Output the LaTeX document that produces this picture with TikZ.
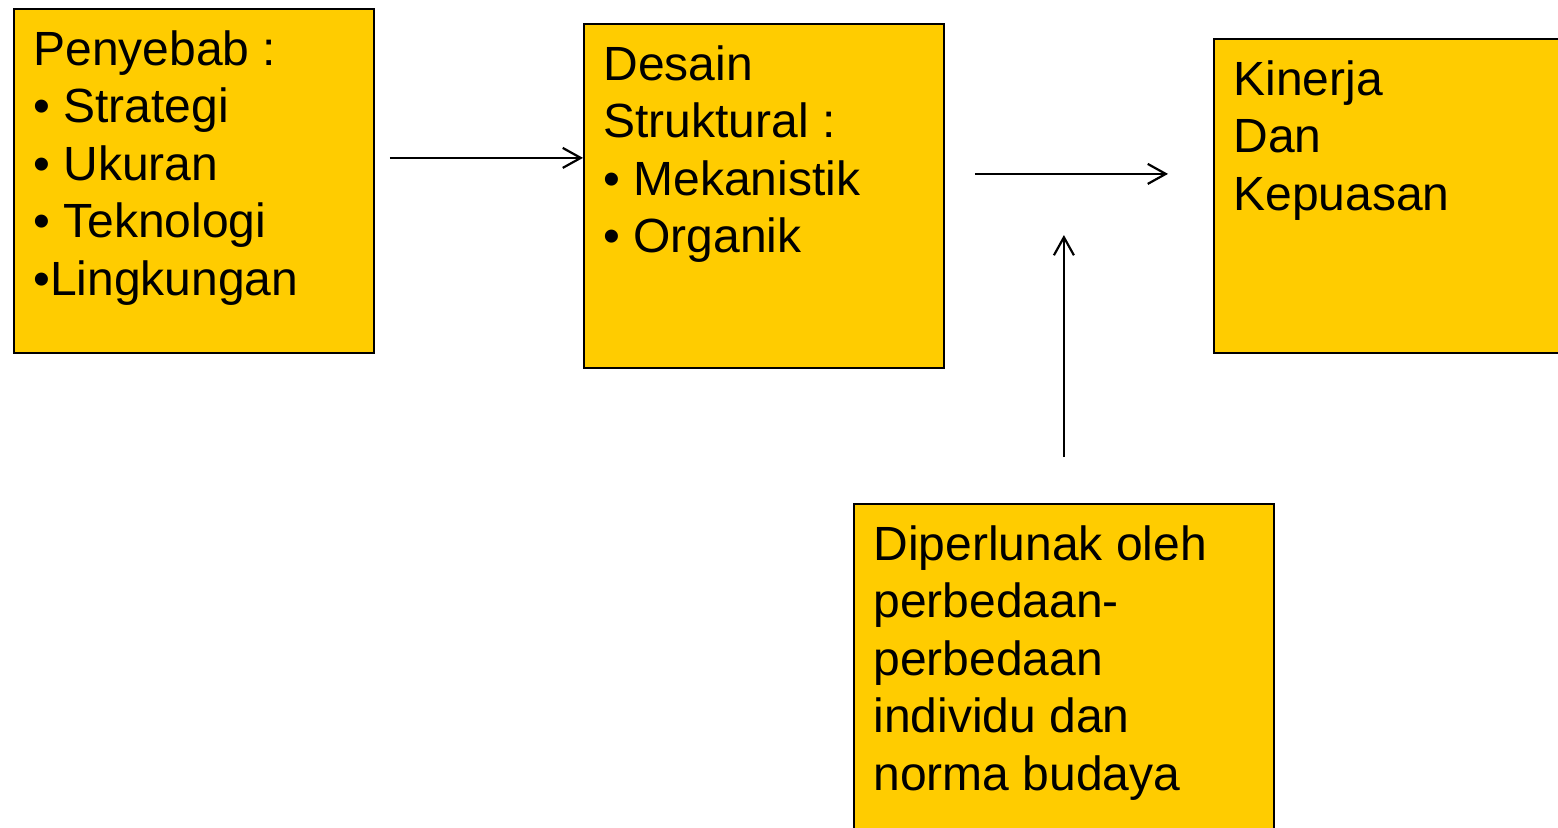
\documentclass[tikz,border=0pt]{standalone}
\usepackage{fontspec}
\setmainfont{Liberation Sans}
\usetikzlibrary{arrows.meta}
\definecolor{boxyellow}{HTML}{FFCC00}

\begin{document}
\begin{tikzpicture}[x=0.5pt, y=-0.5pt,
  box/.style={draw=black, line width=0.9pt, fill=boxyellow, inner sep=0pt, anchor=north west},
  txt/.style={anchor=north west, inner sep=0pt, align=left, font=\fontsize{24}{28.75}\selectfont},
  arr/.style={line width=1.1pt, -{Straight Barb[length=9pt, width=10pt]}}]
  \useasboundingbox (0,0) rectangle (1558,827);
  \clip (0,0) rectangle (1558,827);
  \node[box, minimum width=180pt, minimum height=172pt] (cause) at (13,8) {};
  \node[box, minimum width=180pt, minimum height=172pt] (design) at (583,23) {};
  \node[box, minimum width=185pt, minimum height=157pt] (outcome) at (1213,38) {};
  \node[box, minimum width=210pt, minimum height=175pt] (moderator) at (853,503) {};
  \node[txt] (causetxt) at ([shift={(20,22)}]cause.north west)
    {Penyebab :\\• Strategi\\• Ukuran\\• Teknologi\\•Lingkungan};
  \node[txt] (designtxt) at ([shift={(20,22)}]design.north west)
    {Desain\\Struktural :\\• Mekanistik\\• Organik};
  \node[txt] (outcometxt) at ([shift={(20,22)}]outcome.north west)
    {Kinerja\\Dan\\Kepuasan};
  \node[txt] (moderatortxt) at ([shift={(20,22)}]moderator.north west)
    {Diperlunak oleh\\perbedaan-\\perbedaan\\individu dan\\norma budaya};
  \coordinate (c1) at ([shift={(15,-23)}]cause.east);
  \coordinate (d1) at ([shift={(0,-38)}]design.west);
  \coordinate (d2) at ([shift={(30,-22)}]design.east);
  \coordinate (o1) at ([shift={(-45,-7)}]outcome.west);
  \coordinate (m1) at ([shift={(0,-46)}]moderator.north);
  \coordinate (m2) at ([shift={(0,-268)}]moderator.north);
  \draw[arr] (c1) -- (c1 -| d1);
  \draw[arr] (d2) -- (d2 -| o1);
  \draw[arr] (m1) -- (m2);
\end{tikzpicture}
\end{document}
